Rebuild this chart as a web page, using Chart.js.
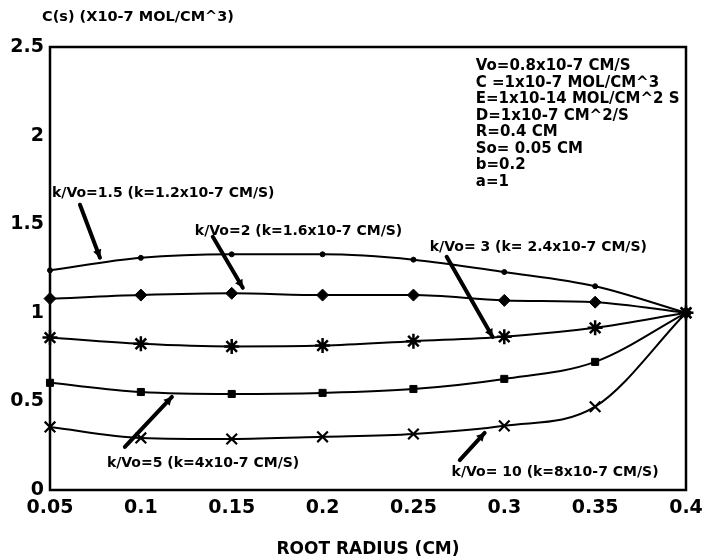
<!DOCTYPE html>
<html>
<head>
<meta charset="utf-8">
<script src="https://cdn.jsdelivr.net/npm/chart.js@4.4.1/dist/chart.umd.min.js"></script>
<style>
  body { margin:0 ; background:#fff ; }
</style>
</head>
<body>
<canvas id="cs_chart" width="704" height="560"></canvas>
<script>
// C(s) vs root radius for several k/Vo

const radius = [0.05,0.1,0.15,0.2,0.25,0.3,0.35,0.4] ;
const cs_k15 = [1.24,1.31,1.33,1.33,1.30,1.23,1.15,1.0] ;
const cs_k2  = [1.08,1.10,1.11,1.10,1.10,1.07,1.06,1.0] ;
const cs_k3  = [0.86,0.825,0.81,0.815,0.84,0.865,0.915,1.0] ;
const cs_k5  = [0.605,0.553,0.542,0.548,0.57,0.627,0.723,1.0] ;
const cs_k10 = [0.356,0.294,0.288,0.30,0.316,0.362,0.47,1.0] ;

const xTicks = [0.05,0.1,0.15,0.2,0.25,0.3,0.35,0.4] ;
const xTickLabels = ['0.05','0.1','0.15','0.2','0.25','0.3','0.35','0.4'] ;
const yTicks = [0,0.5,1,1.5,2,2.5] ;
const yTickLabels = ['0','0.5','1','1.5','2','2.5'] ;

const yTitle = 'C(s) (X10-7 MOL/CM^3)' ;
const xTitle = 'ROOT RADIUS (CM)' ;

// parameter list (upper right)
const params = ['Vo=0.8x10-7 CM/S','C =1x10-7 MOL/CM^3','E=1x10-14 MOL/CM^2 S','D=1x10-7 CM^2/S',
                'R=0.4 CM','So= 0.05 CM','b=0.2','a=1'] ;
const paramX = 0.2843 ;
const paramY = [2.39,2.297,2.204,2.111,2.018,1.925,1.832,1.739] ;

// curve labels with arrows, in data units
const noteText = ['k/Vo=1.5 (k=1.2x10-7 CM/S)','k/Vo=2 (k=1.6x10-7 CM/S)','k/Vo= 3 (k= 2.4x10-7 CM/S)',
                  'k/Vo=5 (k=4x10-7 CM/S)','k/Vo= 10 (k=8x10-7 CM/S)'] ;
const noteX = [0.0511,0.1297,0.259,0.0813,0.271] ;
const noteY = [1.672,1.458,1.367,0.153,0.102] ;
const arrowX0 = [0.0665,0.1396,0.2683,0.0912,0.2755] ;
const arrowY0 = [1.61,1.429,1.316,0.243,0.169] ;
const arrowX1 = [0.0775,0.1561,0.2936,0.1171,0.2892] ;
const arrowY1 = [1.311,1.141,0.864,0.525,0.322] ;

const FONT = '"DejaVu Sans", sans-serif' ;

function series(vals, style, r, bw) {
    return {
        data: vals.map((v,i) => ({x: radius[i], y: v})),
        borderColor: '#000',
        backgroundColor: '#000',
        borderWidth: 2,
        pointStyle: style,
        pointRadius: r,
        pointBorderWidth: bw,
        pointBorderColor: '#000',
        pointBackgroundColor: '#000',
        cubicInterpolationMode: 'monotone',
        clip: false,
    } ;
}

const extras = {
    id: 'extras',
    afterDraw(chart) {
        const ctx = chart.ctx ;
        const xs = chart.scales.x, ys = chart.scales.y ;
        const a = chart.chartArea ;
        ctx.save() ;
        ctx.strokeStyle = '#000' ;
        ctx.lineWidth = 2.5 ;
        ctx.strokeRect(a.left, a.top, a.right-a.left, a.bottom-a.top) ;

        ctx.fillStyle = '#000' ;
        ctx.textBaseline = 'middle' ;
        ctx.font = 'bold 14.5px ' + FONT ;
        ctx.fillText(yTitle, a.left-8, a.top-30) ;

        ctx.font = 'bold 15px ' + FONT ;
        for (let i=0; i<params.length; i++) {
            ctx.fillText(params[i], xs.getPixelForValue(paramX), ys.getPixelForValue(paramY[i])) ;
        }

        ctx.font = 'bold 14px ' + FONT ;
        for (let i=0; i<noteText.length; i++) {
            ctx.fillText(noteText[i], xs.getPixelForValue(noteX[i]), ys.getPixelForValue(noteY[i])) ;
            let x0 = xs.getPixelForValue(arrowX0[i]), y0 = ys.getPixelForValue(arrowY0[i]) ;
            let x1 = xs.getPixelForValue(arrowX1[i]), y1 = ys.getPixelForValue(arrowY1[i]) ;
            ctx.lineWidth = 4 ;
            ctx.lineCap = 'round' ;
            ctx.beginPath() ; ctx.moveTo(x0,y0) ; ctx.lineTo(x1,y1) ; ctx.stroke() ;
            // small head
            let ang = Math.atan2(y1-y0, x1-x0) ;
            ctx.beginPath() ;
            ctx.moveTo(x1, y1) ;
            ctx.lineTo(x1 - 9*Math.cos(ang-0.5), y1 - 9*Math.sin(ang-0.5)) ;
            ctx.lineTo(x1 - 9*Math.cos(ang+0.5), y1 - 9*Math.sin(ang+0.5)) ;
            ctx.closePath() ;
            ctx.fill() ;
        }
        ctx.restore() ;
    }
} ;

const ctx_cs = document.getElementById('cs_chart').getContext('2d') ;
let cs_chart = new Chart(ctx_cs, {
    type: 'line',
    data: {
        datasets: [
            series(cs_k15, 'circle', 2.5, 1),
            series(cs_k2, 'rectRot', 6, 1),
            series(cs_k3, 'star', 7.5, 2.5),
            series(cs_k5, 'rect', 5, 1),
            series(cs_k10, 'crossRot', 7.5, 2.2),
        ]
    },
    options: {
        responsive: false,
        animation: false,
        devicePixelRatio: 1,
        layout: { padding: { top: 47, right: 18, left: 0, bottom: 0 } },
        plugins: { legend: { display: false }, tooltip: { enabled: false } },
        scales: {
            x: {
                type: 'linear',
                min: 0.05, max: 0.4,
                afterBuildTicks: (s) => { s.ticks = xTicks.map(v => ({value: v})) ; },
                afterFit: (s) => { s.height = 70 ; s.paddingLeft = 0 ; s.paddingRight = 0 ; },
                grid: { display: false, drawTicks: false },
                border: { display: false },
                ticks: {
                    padding: 7,
                    color: '#000',
                    font: { family: FONT, size: 19, weight: 'bold' },
                    callback: (v, i) => xTickLabels[i],
                    maxRotation: 0,
                },
                title: {
                    display: true,
                    text: xTitle,
                    color: '#000',
                    font: { family: FONT, size: 17, weight: 'bold' },
                    padding: { top: 0, bottom: 0 },
                },
            },
            y: {
                type: 'linear',
                min: 0, max: 2.5,
                afterBuildTicks: (s) => { s.ticks = yTicks.map(v => ({value: v})) ; },
                afterFit: (s) => { s.width = 50 ; },
                grid: { display: false, drawTicks: false },
                border: { display: false },
                ticks: {
                    padding: 6,
                    color: '#000',
                    font: { family: FONT, size: 19, weight: 'bold' },
                    callback: (v, i) => yTickLabels[i],
                },
            },
        },
    },
    plugins: [extras],
}) ;
</script>
</body>
</html>
